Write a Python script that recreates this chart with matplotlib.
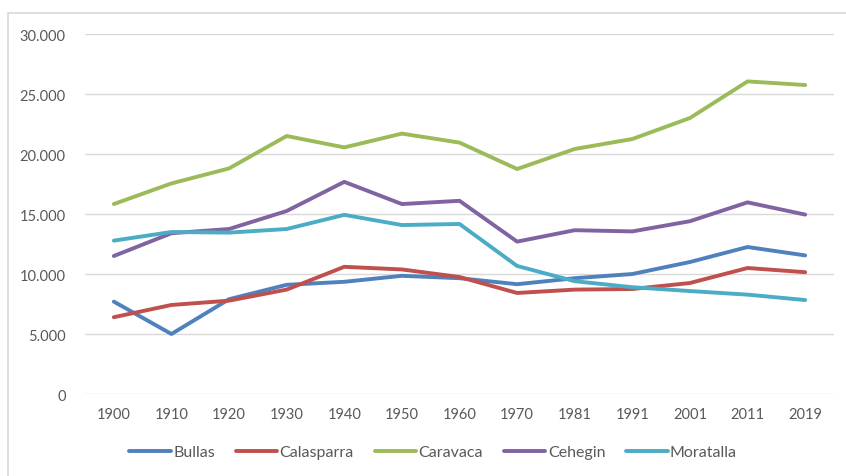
import matplotlib
matplotlib.use("Agg")
import matplotlib.pyplot as plt
from matplotlib.ticker import FuncFormatter
from matplotlib.patches import Rectangle

plt.rcParams["font.family"] = ["Lato", "DejaVu Sans"]

# ============ datos ============
years = ["1900", "1910", "1920", "1930", "1940", "1950", "1960",
         "1970", "1981", "1991", "2001", "2011", "2019"]
bullas = [7700, 5000, 7900, 9100, 9350, 9850, 9650, 9150, 9650, 10000, 11000, 12250, 11550]
calasparra = [6400, 7420, 7780, 8700, 10600, 10380, 9750, 8420, 8700, 8750, 9250, 10500, 10150]
caravaca = [15830, 17550, 18800, 21500, 20550, 21700, 20950, 18750, 20420, 21250, 23000, 26050, 25750]
cehegin = [11500, 13400, 13750, 15250, 17680, 15830, 16100, 12700, 13650, 13550, 14400, 15970, 14950]
moratalla = [12780, 13500, 13450, 13750, 14930, 14080, 14170, 10670, 9400, 8900, 8580, 8280, 7830]

series = [("Bullas", bullas, "#4F81BD"),
          ("Calasparra", calasparra, "#C0504D"),
          ("Caravaca", caravaca, "#9BBB59"),
          ("Cehegin", cehegin, "#8064A2"),
          ("Moratalla", moratalla, "#4BACC6")]

# ============ figura ============
fig = plt.figure(figsize=(8.46, 4.77), dpi=100)
ax = fig.add_axes([0.1005, 0.1719, 0.8853, 0.7547])

x = range(len(years))
for name, vals, col in series:
    ax.plot(x, vals, color=col, lw=2.8, label=name, solid_capstyle="round")

ax.set_xlim(-0.5, len(years) - 0.5)
ax.set_ylim(0, 30000)
ax.set_yticks(range(0, 30001, 5000))
ax.yaxis.set_major_formatter(FuncFormatter(lambda v, p: f"{int(v):,}".replace(",", ".")))
ax.set_xticks(list(x))
ax.set_xticklabels(years)

ax.grid(axis="y", color="#D9D9D9", lw=1)
ax.set_axisbelow(True)
for s in ax.spines.values():
    s.set_visible(False)
ax.tick_params(axis="both", length=0, labelsize=10.5, colors="#595959")
ax.tick_params(axis="y", pad=14)
ax.tick_params(axis="x", pad=9)

fig.legend(loc="center", bbox_to_anchor=(0.512, 0.05), ncol=5, frameon=False,
           fontsize=11.5, handlelength=2.6, handletextpad=0.15, columnspacing=1.3,
           labelcolor="#595959")

# borde del área del gráfico
fig.patches.append(Rectangle((8 / 846, -0.1), 1.2, 1 - 14 / 477 + 0.1,
                             transform=fig.transFigure, fill=False,
                             edgecolor="#D9D9D9", lw=1.2))

fig.savefig("out.png", dpi=100, facecolor="white")
